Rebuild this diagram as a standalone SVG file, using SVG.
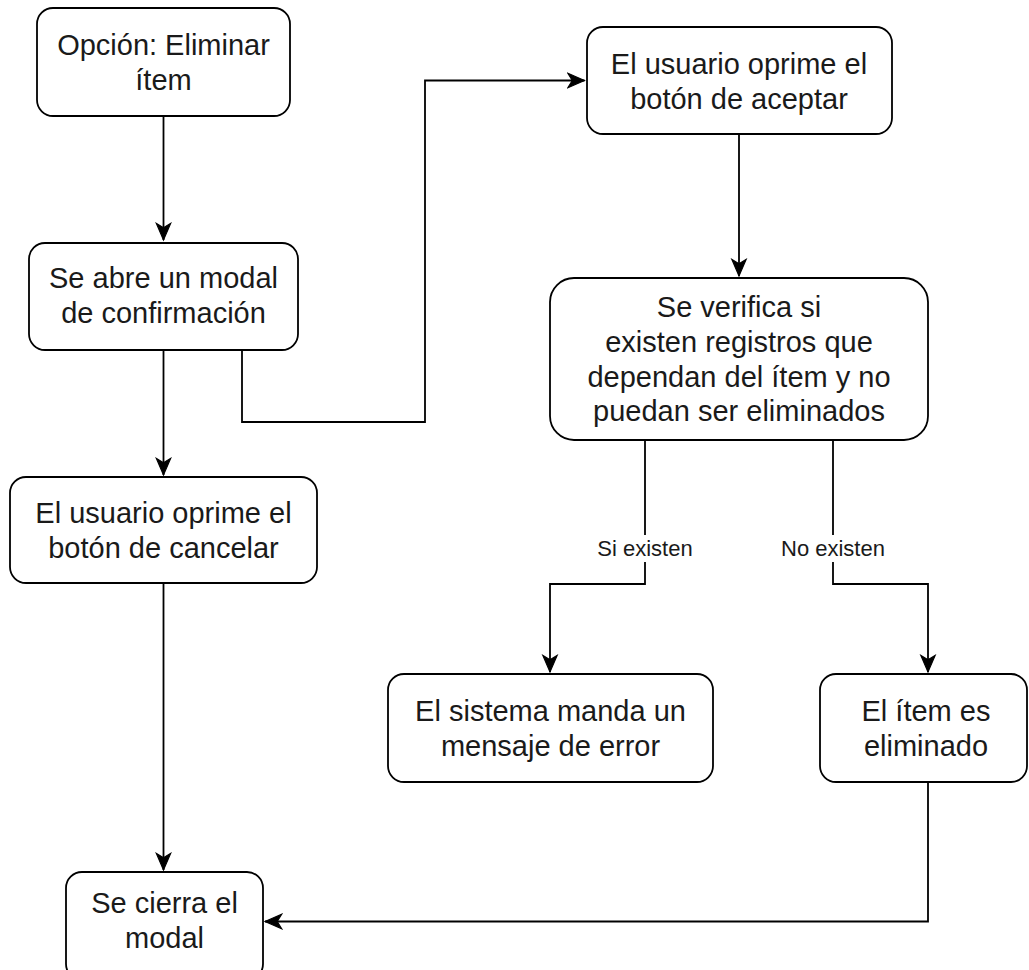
<svg xmlns="http://www.w3.org/2000/svg" width="1029" height="970" viewBox="0 0 1029 970">
  <style>
    .box { fill: #ffffff; stroke: #000000; stroke-width: 1.8; }
    .t { font-family: "Liberation Sans", Arial, sans-serif; font-size: 29px; fill: #1a1a1a; text-anchor: middle; }
    .edge { fill: none; stroke: #000000; stroke-width: 1.8; }
    .lbl { font-family: "Liberation Sans", Arial, sans-serif; font-size: 22px; fill: #1a1a1a; text-anchor: middle; }
  </style>
  <defs>
    <marker id="arrow" markerUnits="userSpaceOnUse" markerWidth="20" markerHeight="20" viewBox="-16 -8 18 16" refX="0" refY="0" orient="auto">
      <path d="M0,0 L-15,-6.5 L-11,0 L-15,6.5 Z" fill="#000000" stroke="#000000" stroke-width="1"/>
    </marker>
  </defs>
  <rect width="1029" height="970" fill="#ffffff"/>

  <!-- connectors -->
  <g id="connectors">
    <path class="edge" d="M163.5,116 V240" marker-end="url(#arrow)"/>
    <path class="edge" d="M163.5,350 V475" marker-end="url(#arrow)"/>
    <path class="edge" d="M242,350 V422 H425 V80.5 H584.5" marker-end="url(#arrow)"/>
    <path class="edge" d="M739,134 V276" marker-end="url(#arrow)"/>
    <path class="edge" d="M163.5,583 V870" marker-end="url(#arrow)"/>
    <path class="edge" d="M645,440 V584 H550 V672" marker-end="url(#arrow)"/>
    <path class="edge" d="M833,440 V584 H928 V672" marker-end="url(#arrow)"/>
    <path class="edge" d="M928,782 V921.5 H265" marker-end="url(#arrow)"/>
    <!-- edge labels -->
    <rect x="594" y="535" width="102" height="27" fill="#ffffff"/>
    <text class="lbl" x="645" y="556">Si existen</text>
    <rect x="777" y="535" width="112" height="27" fill="#ffffff"/>
    <text class="lbl" x="833" y="556">No existen</text>
  </g>

  <!-- nodes -->
  <g id="n-opcion">
    <rect class="box" x="37" y="8" width="253" height="108" rx="16" ry="16"/>
    <text class="t" x="163.5" y="55">Opción: Eliminar</text>
    <text class="t" x="163.5" y="90">ítem</text>
  </g>
  <g id="n-modal">
    <rect class="box" x="29" y="243" width="269" height="107" rx="16" ry="16"/>
    <text class="t" x="163.5" y="288">Se abre un modal</text>
    <text class="t" x="163.5" y="323">de confirmación</text>
  </g>
  <g id="n-cancelar">
    <rect class="box" x="10" y="477" width="307" height="106" rx="16" ry="16"/>
    <text class="t" x="163.5" y="523">El usuario oprime el</text>
    <text class="t" x="163.5" y="558">botón de cancelar</text>
  </g>
  <g id="n-cierra">
    <rect class="box" x="66" y="872" width="197" height="108" rx="16" ry="16"/>
    <text class="t" x="164.5" y="913">Se cierra el</text>
    <text class="t" x="164.5" y="948">modal</text>
  </g>
  <g id="n-aceptar">
    <rect class="box" x="587" y="27" width="305" height="107" rx="16" ry="16"/>
    <text class="t" x="739" y="74">El usuario oprime el</text>
    <text class="t" x="739" y="109">botón de aceptar</text>
  </g>
  <g id="n-verifica">
    <rect class="box" x="550" y="278" width="378" height="162" rx="24" ry="24"/>
    <text class="t" x="739" y="317">Se verifica si</text>
    <text class="t" x="739" y="352">existen registros que</text>
    <text class="t" x="739" y="387">dependan del ítem y no</text>
    <text class="t" x="739" y="421">puedan ser eliminados</text>
  </g>
  <g id="n-error">
    <rect class="box" x="388" y="674" width="325" height="108" rx="16" ry="16"/>
    <text class="t" x="550.5" y="721">El sistema manda un</text>
    <text class="t" x="550.5" y="756">mensaje de error</text>
  </g>
  <g id="n-eliminado">
    <rect class="box" x="820" y="674" width="207" height="108" rx="16" ry="16"/>
    <text class="t" x="926" y="721">El ítem es</text>
    <text class="t" x="926" y="756">eliminado</text>
  </g>
</svg>
